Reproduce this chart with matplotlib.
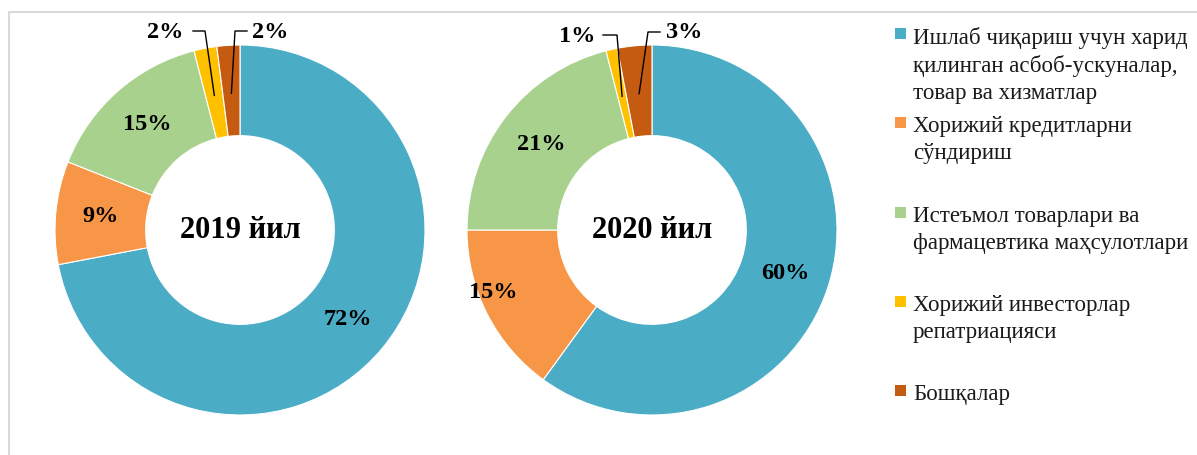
import numpy as np
import matplotlib
matplotlib.use("Agg")
import matplotlib.pyplot as plt
from matplotlib.patches import Rectangle

plt.rcParams['font.family'] = ['Liberation Serif', 'DejaVu Serif']

# Data
categories = [
    "Ишлаб чиқариш учун харид\nқилинган асбоб-ускуналар,\nтовар ва хизматлар",
    "Хорижий кредитларни\nсўндириш",
    "Истеъмол товарлари ва\nфармацевтика маҳсулотлари",
    "Хорижий инвесторлар\nрепатриацияси",
    "Бошқалар",
]
years = ["2019 йил", "2020 йил"]
values_2019 = [72, 9, 15, 2, 2]
values_2020 = [60, 15, 21, 1, 3]
colors = ["#4BACC6", "#F79646", "#A9D18E", "#FFC000", "#C55A11"]

W, H = 1197, 455


def py(y):
    # pixel row (from top) -> data y
    return H - y


fig = plt.figure(figsize=(W / 100, H / 100), dpi=100)
ax = fig.add_axes([0, 0, 1, 1])

# donut layout (pixels)
centers = [(240, 230), (652, 230)]
radius = 185
ring = 0.49 * radius
label_r = 140

# label overrides: (donut, slice) -> text center in pixels
label_pos = {
    (0, 3): (165, 33), (0, 4): (270, 33),
    (1, 1): (493, 292),
    (1, 3): (577, 37), (1, 4): (684, 33),
}
# leader knee x for small slices
leader_knee = {
    (0, 3): (193, 205, 31), (0, 4): (247, 235, 31),
    (1, 3): (603, 617, 35), (1, 4): (660, 648, 32),
}

for d, (vals, year) in enumerate(zip([values_2019, values_2020], years)):
    cx, cy = centers[d]
    wedges, _ = ax.pie(vals, center=(cx, py(cy)), radius=radius, startangle=90,
                       counterclock=False, colors=colors,
                       wedgeprops=dict(width=ring, edgecolor='white', linewidth=0.8))
    for i, (w, v) in enumerate(zip(wedges, vals)):
        mid = np.deg2rad((w.theta1 + w.theta2) / 2)
        if (d, i) in label_pos:
            tx, ty = label_pos[(d, i)]
            ty = py(ty)
        else:
            tx = cx + label_r * np.cos(mid)
            ty = py(cy) + label_r * np.sin(mid)
        ax.text(tx, ty, f"{v}%", ha='center', va='center',
                fontsize=17.5, fontweight='bold', color='black')
        if (d, i) in leader_knee:
            x0, x1, ky = leader_knee[(d, i)]
            ex = cx + 137 * np.cos(mid)
            ey = py(cy) + 137 * np.sin(mid)
            ax.plot([x0, x1, ex], [py(ky), py(ky), ey], color='black', lw=1)
    ax.text(cx, py(cy), year, ha='center', va='center',
            fontsize=22, fontweight='bold', color='black')

ax.set_xlim(0, W)
ax.set_ylim(0, H)
ax.set_aspect('auto')
ax.axis('off')

# chart area border (top and left visible)
ax.plot([9, 9, W], [0, py(12), py(12)], color='#D9D9D9', lw=1.5)

# legend
leg_y = [28, 117, 207, 296, 385]
for cat, col, y in zip(categories, colors, leg_y):
    ax.add_patch(Rectangle((895, py(y + 11)), 11, 11, facecolor=col, edgecolor='none'))
    ax.text(913, py(y - 1), cat, ha='left', va='top', fontsize=16.5,
            color='#1a1a1a', linespacing=1.36)

fig.savefig("out.png", dpi=100)
